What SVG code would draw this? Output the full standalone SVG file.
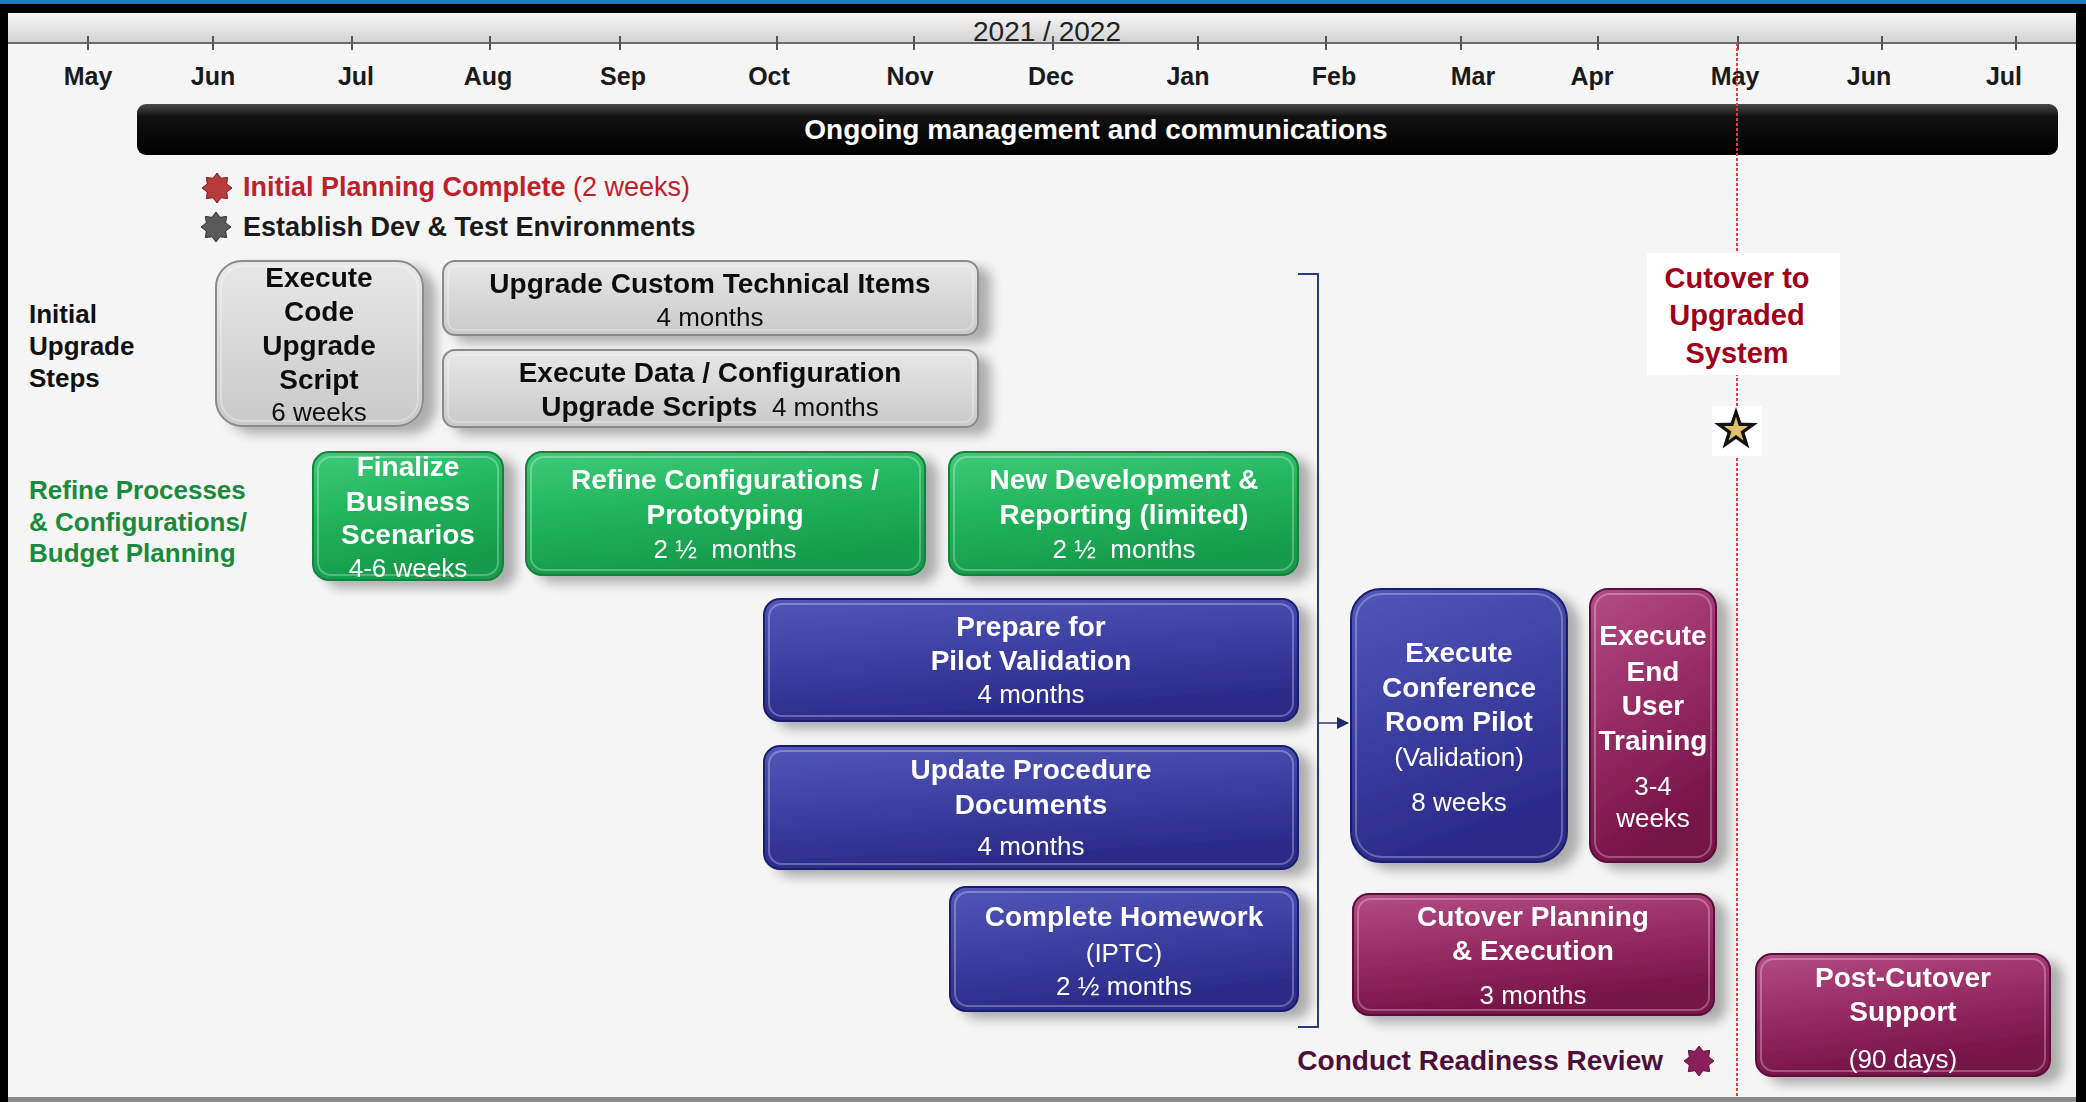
<svg xmlns="http://www.w3.org/2000/svg" width="2086" height="1102" viewBox="0 0 2086 1102">
<defs>
<style>
text{font-family:"Liberation Sans",Arial,sans-serif}
.mo{font-size:25px;font-weight:bold;fill:#1a1a1a;text-anchor:middle}
.tk{stroke:#555;stroke-width:2}
.lbl{font-size:26px;font-weight:bold}
.bt{font-size:28px;font-weight:bold;text-anchor:middle}
.bd{font-size:26px;font-weight:normal}
.w{fill:#fff}
.k{fill:#111}
.gray{fill:url(#gGray);stroke:#8a8a8a;stroke-width:2}
.green{fill:url(#gGreen);stroke:#14803c;stroke-width:2}
.blue{fill:url(#gBlue);stroke:#1f1f6e;stroke-width:2}
.maroon{fill:url(#gMaroon);stroke:#5c0f37;stroke-width:2}
.hl{fill:none;stroke:#fff;stroke-opacity:0.28;stroke-width:2}
.sh{filter:url(#shadow)}
</style>
<linearGradient id="gGray" x1="0" y1="0" x2="0" y2="1"><stop offset="0" stop-color="#e8e8e8"/><stop offset="1" stop-color="#c9c9c9"/></linearGradient>
<linearGradient id="gGreen" x1="0" y1="0" x2="0.3" y2="1"><stop offset="0" stop-color="#3fcb7a"/><stop offset="0.5" stop-color="#22b45c"/><stop offset="1" stop-color="#159a4b"/></linearGradient>
<linearGradient id="gBlue" x1="0" y1="0" x2="0.3" y2="1"><stop offset="0" stop-color="#5157b8"/><stop offset="0.5" stop-color="#3d40a3"/><stop offset="1" stop-color="#2a2a88"/></linearGradient>
<linearGradient id="gMaroon" x1="0" y1="0" x2="0.3" y2="1"><stop offset="0" stop-color="#b34d85"/><stop offset="0.5" stop-color="#972c65"/><stop offset="1" stop-color="#751346"/></linearGradient>
<linearGradient id="gHead" x1="0" y1="0" x2="0" y2="1"><stop offset="0" stop-color="#f6f6f6"/><stop offset="1" stop-color="#d2d2d2"/></linearGradient>
<linearGradient id="gBar" x1="0" y1="0" x2="0" y2="1"><stop offset="0" stop-color="#4a4a4a"/><stop offset="0.25" stop-color="#111"/><stop offset="1" stop-color="#000"/></linearGradient>
<filter id="shadow" x="-10%" y="-10%" width="130%" height="140%">
<feGaussianBlur in="SourceAlpha" stdDeviation="6"/>
<feOffset dx="12" dy="7" result="b"/>
<feComponentTransfer><feFuncA type="linear" slope="0.3"/></feComponentTransfer>
<feMerge><feMergeNode/><feMergeNode in="SourceGraphic"/></feMerge>
</filter>
<polygon id="burst" points="0,-15 4.02,-9.7 10.61,-10.61 9.7,-4.02 15,0 9.7,4.02 10.61,10.61 4.02,9.7 0,15 -4.02,9.7 -10.61,10.61 -9.7,4.02 -15,0 -9.7,-4.02 -10.61,-10.61 -4.02,-9.7"/>
<marker id="arr" markerWidth="12" markerHeight="12" refX="11" refY="6" orient="auto" markerUnits="userSpaceOnUse"><path d="M0,0 L12,6 L0,12 Z" fill="#1f2a66"/></marker>
</defs>

<!-- frame -->
<rect x="0" y="0" width="2086" height="1102" fill="#000"/>
<rect x="0" y="0" width="2086" height="4" fill="#1a7fb5"/>
<rect x="8" y="13" width="2068" height="1086" fill="#f5f5f5"/>
<rect x="8" y="1097" width="2068" height="5" fill="#8a8a8a"/>

<!-- header -->
<g id="timeline">
<rect x="8" y="13" width="2068" height="30" fill="url(#gHead)"/>
<line x1="8" y1="43" x2="2076" y2="43" stroke="#6b6b6b" stroke-width="2"/>
<text x="1047" y="41" style="font-size:28px;fill:#222;text-anchor:middle">2021 / 2022</text>
<g>
<line class="tk" x1="88" y1="36" x2="88" y2="50"/><line class="tk" x1="213" y1="36" x2="213" y2="50"/><line class="tk" x1="352" y1="36" x2="352" y2="50"/><line class="tk" x1="490" y1="36" x2="490" y2="50"/><line class="tk" x1="620" y1="36" x2="620" y2="50"/><line class="tk" x1="777" y1="36" x2="777" y2="50"/><line class="tk" x1="914" y1="36" x2="914" y2="50"/><line class="tk" x1="1053" y1="36" x2="1053" y2="50"/><line class="tk" x1="1198" y1="36" x2="1198" y2="50"/><line class="tk" x1="1326" y1="36" x2="1326" y2="50"/><line class="tk" x1="1461" y1="36" x2="1461" y2="50"/><line class="tk" x1="1598" y1="36" x2="1598" y2="50"/><line class="tk" x1="1738" y1="36" x2="1738" y2="50"/><line class="tk" x1="1882" y1="36" x2="1882" y2="50"/><line class="tk" x1="2016" y1="36" x2="2016" y2="50"/>
</g>
<text class="mo" x="88" y="85">May</text><text class="mo" x="213" y="85">Jun</text><text class="mo" x="356" y="85">Jul</text><text class="mo" x="488" y="85">Aug</text><text class="mo" x="623" y="85">Sep</text><text class="mo" x="769" y="85">Oct</text><text class="mo" x="910" y="85">Nov</text><text class="mo" x="1051" y="85">Dec</text><text class="mo" x="1188" y="85">Jan</text><text class="mo" x="1334" y="85">Feb</text><text class="mo" x="1473" y="85">Mar</text><text class="mo" x="1592" y="85">Apr</text><text class="mo" x="1735" y="85">May</text><text class="mo" x="1869" y="85">Jun</text><text class="mo" x="2004" y="85">Jul</text>
</g>

<g id="ongoing">
<rect x="137" y="104" width="1921" height="51" rx="9" fill="url(#gBar)"/>
<text x="1096" y="139" style="font-size:28px;font-weight:bold;fill:#fff;text-anchor:middle">Ongoing management and communications</text>
</g>

<!-- cutover line -->
<line x1="1737" y1="43" x2="1737" y2="1097" stroke="#e0403c" stroke-width="2" stroke-dasharray="3,2"/>

<g id="milestone-planning">
<use href="#burst" x="217" y="188" fill="#b83a3a" stroke="#7a1c1c" stroke-width="1"/>
<text x="243" y="196" style="font-size:27px;fill:#c0202a"><tspan font-weight="bold">Initial Planning Complete</tspan> (2 weeks)</text>
</g>
<g id="milestone-env">
<use href="#burst" x="216" y="227" fill="#5a5a5a" stroke="#333" stroke-width="1"/>
<text x="243" y="236" style="font-size:27px;font-weight:bold;fill:#1a1a1a">Establish Dev &amp; Test Environments</text>
</g>

<g id="label-initial">
<text class="lbl" x="29" y="323" fill="#111">Initial</text>
<text class="lbl" x="29" y="355" fill="#111">Upgrade</text>
<text class="lbl" x="29" y="387" fill="#111">Steps</text>
</g>
<g id="label-refine">
<text class="lbl" x="29" y="499" fill="#1a8a3c">Refine Processes</text>
<text class="lbl" x="29" y="531" fill="#1a8a3c">&amp; Configurations/</text>
<text class="lbl" x="29" y="562" fill="#1a8a3c">Budget Planning</text>
</g>

<!-- gray -->
<g id="code-upgrade" class="sh">
<rect class="gray" x="216" y="261" width="207" height="165" rx="26"/>
<rect class="hl" x="221" y="266" width="197" height="155" rx="22"/>
<text class="bt k" x="319" y="287">Execute</text>
<text class="bt k" x="319" y="321">Code</text>
<text class="bt k" x="319" y="355">Upgrade</text>
<text class="bt k" x="319" y="389">Script</text>
<text class="bt k bd" x="319" y="421">6 weeks</text>
</g>
<g id="custom-tech" class="sh">
<rect class="gray" x="443" y="261" width="535" height="74" rx="12"/>
<rect class="hl" x="448" y="266" width="525" height="64" rx="9"/>
<text class="bt k" x="710" y="293">Upgrade Custom Technical Items</text>
<text class="bt k bd" x="710" y="326">4 months</text>
</g>
<g id="data-config" class="sh">
<rect class="gray" x="443" y="350" width="535" height="77" rx="12"/>
<rect class="hl" x="448" y="355" width="525" height="67" rx="9"/>
<text class="bt k" x="710" y="382">Execute Data / Configuration</text>
<text class="bt k" x="710" y="416">Upgrade Scripts<tspan font-weight="normal" font-size="26px">&#160; 4 months</tspan></text>
</g>

<!-- green -->
<g id="finalize" class="sh">
<rect class="green" x="313" y="452" width="190" height="128" rx="16"/>
<rect class="hl" x="318" y="457" width="180" height="118" rx="13"/>
<text class="bt w" x="408" y="476">Finalize</text>
<text class="bt w" x="408" y="511">Business</text>
<text class="bt w" x="408" y="544">Scenarios</text>
<text class="bt w bd" x="408" y="577">4-6 weeks</text>
</g>
<g id="refine-config" class="sh">
<rect class="green" x="526" y="452" width="399" height="123" rx="16"/>
<rect class="hl" x="531" y="457" width="389" height="113" rx="13"/>
<text class="bt w" x="725" y="489">Refine Configurations /</text>
<text class="bt w" x="725" y="524">Prototyping</text>
<text class="bt w bd" x="725" y="558">2 ½&#160; months</text>
</g>
<g id="new-dev" class="sh">
<rect class="green" x="949" y="452" width="349" height="123" rx="16"/>
<rect class="hl" x="954" y="457" width="339" height="113" rx="13"/>
<text class="bt w" x="1124" y="489">New Development &amp;</text>
<text class="bt w" x="1124" y="524">Reporting (limited)</text>
<text class="bt w bd" x="1124" y="558">2 ½&#160; months</text>
</g>

<!-- blue -->
<g id="prepare-pilot" class="sh">
<rect class="blue" x="764" y="599" width="534" height="122" rx="16"/>
<rect class="hl" x="769" y="604" width="524" height="112" rx="13"/>
<text class="bt w" x="1031" y="636">Prepare for</text>
<text class="bt w" x="1031" y="670">Pilot Validation</text>
<text class="bt w bd" x="1031" y="703">4 months</text>
</g>
<g id="update-docs" class="sh">
<rect class="blue" x="764" y="746" width="534" height="123" rx="16"/>
<rect class="hl" x="769" y="751" width="524" height="113" rx="13"/>
<text class="bt w" x="1031" y="779">Update Procedure</text>
<text class="bt w" x="1031" y="814">Documents</text>
<text class="bt w bd" x="1031" y="855">4 months</text>
</g>
<g id="homework" class="sh">
<rect class="blue" x="950" y="887" width="348" height="124" rx="16"/>
<rect class="hl" x="955" y="892" width="338" height="114" rx="13"/>
<text class="bt w" x="1124" y="926">Complete Homework</text>
<text class="bt w bd" x="1124" y="962">(IPTC)</text>
<text class="bt w bd" x="1124" y="995">2 ½ months</text>
</g>
<g id="crp" class="sh">
<rect class="blue" x="1351" y="589" width="216" height="273" rx="30"/>
<rect class="hl" x="1356" y="594" width="206" height="263" rx="26"/>
<text class="bt w" x="1459" y="662">Execute</text>
<text class="bt w" x="1459" y="697">Conference</text>
<text class="bt w" x="1459" y="731">Room Pilot</text>
<text class="bt w bd" x="1459" y="766">(Validation)</text>
<text class="bt w bd" x="1459" y="811">8 weeks</text>
</g>

<!-- maroon -->
<g id="training" class="sh">
<rect class="maroon" x="1590" y="589" width="126" height="273" rx="18"/>
<rect class="hl" x="1595" y="594" width="116" height="263" rx="15"/>
<text class="bt w" x="1653" y="645">Execute</text>
<text class="bt w" x="1653" y="681">End</text>
<text class="bt w" x="1653" y="715">User</text>
<text class="bt w" x="1653" y="750">Training</text>
<text class="bt w bd" x="1653" y="795">3-4</text>
<text class="bt w bd" x="1653" y="827">weeks</text>
</g>
<g id="cutover-planning" class="sh">
<rect class="maroon" x="1353" y="894" width="361" height="121" rx="16"/>
<rect class="hl" x="1358" y="899" width="351" height="111" rx="13"/>
<text class="bt w" x="1533" y="926">Cutover Planning</text>
<text class="bt w" x="1533" y="960">&amp; Execution</text>
<text class="bt w bd" x="1533" y="1004">3 months</text>
</g>
<g id="post-cutover" class="sh">
<rect class="maroon" x="1756" y="954" width="294" height="122" rx="16"/>
<rect class="hl" x="1761" y="959" width="284" height="112" rx="13"/>
<text class="bt w" x="1903" y="987">Post-Cutover</text>
<text class="bt w" x="1903" y="1021">Support</text>
<text class="bt w bd" x="1903" y="1068">(90 days)</text>
</g>

<g id="readiness-review">
<text x="1663" y="1070" style="font-size:28px;font-weight:bold;fill:#4d0f3a;text-anchor:end">Conduct Readiness Review</text>
<use href="#burst" x="1699" y="1061" fill="#8a1f5c" stroke="#5c0f37" stroke-width="1"/>
</g>

<g id="cutover-milestone">
<rect x="1647" y="253" width="193" height="122" fill="#fff"/>
<text x="1737" y="288" style="font-size:29px;font-weight:bold;fill:#a0001a;text-anchor:middle">Cutover to</text>
<text x="1737" y="325" style="font-size:29px;font-weight:bold;fill:#a0001a;text-anchor:middle">Upgraded</text>
<text x="1737" y="363" style="font-size:29px;font-weight:bold;fill:#a0001a;text-anchor:middle">System</text>
<rect x="1712" y="406" width="50" height="50" fill="#fff"/>
<polygon points="1736,407 1741.3,422.7 1757.9,422.9 1744.6,432.8 1749.5,448.6 1736,439 1722.5,448.6 1727.4,432.8 1714.1,422.9 1730.7,422.7" fill="#111"/>
<polygon points="1736,417 1738.8,425.9 1748.2,426 1740.6,431.5 1743.4,440.4 1736,435 1728.6,440.4 1731.4,431.5 1723.8,426 1733.2,425.9" fill="#e3c06a"/>
</g>

<g id="connectors">
<polyline points="1298,274 1318,274 1318,1027 1298,1027" fill="none" stroke="#2d3a7a" stroke-width="2"/>
<line x1="1318" y1="723" x2="1348" y2="723" stroke="#2d3a7a" stroke-width="1.5" marker-end="url(#arr)"/>
</g>
</svg>
